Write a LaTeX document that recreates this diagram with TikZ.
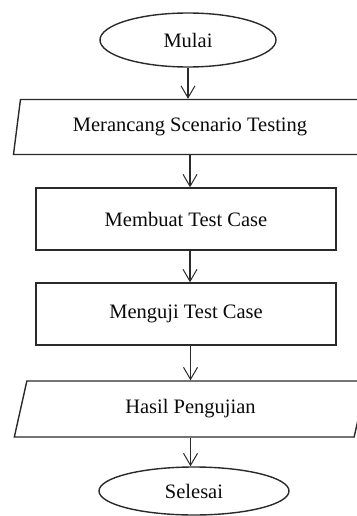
\documentclass[tikz,border=0pt]{standalone}
\usepackage{fontspec}
\setmainfont{Liberation Serif}
\usetikzlibrary{shapes.geometric,arrows.meta}
\definecolor{ln}{HTML}{2A2A2A}
\definecolor{tx}{HTML}{0A0A0A}
\tikzset{
  base/.style={draw=ln, line width=1.4pt, text=tx, font=\fontsize{20.5}{24}\selectfont, inner sep=0pt},
  term/.style={base, ellipse},
  iobox/.style={base, trapezium, trapezium left angle=75, trapezium right angle=105, trapezium stretches=true},
  procbox/.style={base, rectangle},
  conn/.style={draw=ln, line width=1.2pt, -{Straight Barb[length=12pt,width=14pt,line width=1pt]}}
}
\begin{document}
\begin{tikzpicture}[x=1pt,y=-1pt]
\useasboundingbox (0,0) rectangle (356,516);
\node[term, minimum width=176pt, minimum height=54pt] (m) at (188,40) {Mulai};
\node[iobox, minimum width=354pt, minimum height=55pt] (p1) at (190,127) {Merancang Scenario Testing};
\node[procbox, minimum width=300pt, minimum height=62pt] (r1) at (186,219) {Membuat Test Case};
\node[procbox, minimum width=300pt, minimum height=62pt] (r2) at (186,314) {Menguji Test Case};
\node[iobox, minimum width=353pt, minimum height=56pt] (p2) at (190.5,409) {Hasil Pengujian};
\node[term, minimum width=190pt, minimum height=48pt] (s) at (194,491) {Selesai};
\draw[conn] (m.south) -- (m.south |- p1.north);
\draw[conn] (p1.south) -- (p1.south |- r1.north);
\draw[conn] (r1.south -| p1.south) -- (r2.north -| p1.south);
\draw[conn] (r2.south -| p2.north) -- (p2.north);
\draw[conn] (p2.south) -- (p2.south |- s.north);
\end{tikzpicture}
\end{document}
